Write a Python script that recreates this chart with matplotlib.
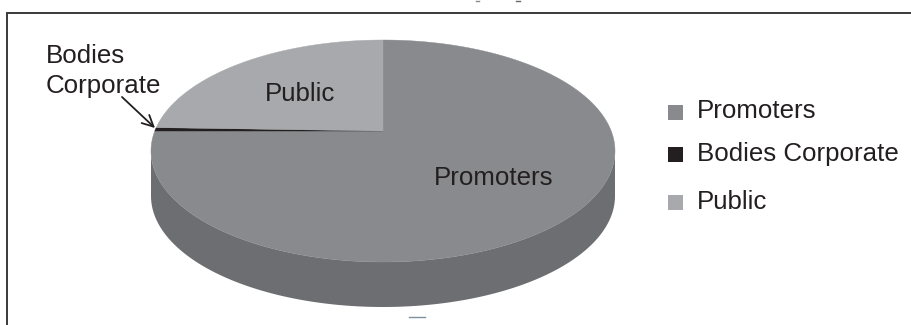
import numpy as np
import matplotlib
matplotlib.use('Agg')
import matplotlib.pyplot as plt
from matplotlib.patches import Polygon, Rectangle

plt.rcParams['font.family'] = ['Liberation Sans', 'DejaVu Sans']

categories = ['Promoters', 'Bodies Corporate', 'Public']
shares = [75.0, 0.5, 24.5]
colors = ['#898a8d', '#231f20', '#a7a9ac']
wall_color = '#6d6e71'
text_color = '#231f20'
font_size = 18.6

# Pie outline in pixels: the wedge apex sits above the ellipse centre for the tilted look
cx, cy = 383, 151
rx, ry = 232, 111
apex_y = 131
depth = 45

fig, ax = plt.subplots(figsize=(9.12, 3.25), dpi=100)
ax.set_position([0, 0, 1, 1])
ax.set_xlim(0, 912)
ax.set_ylim(325, 0)
ax.axis('off')


def rim_point(angle):
    # Where a ray leaving the apex at this pie angle hits the ellipse
    dx = np.cos(angle)
    dy = -np.sin(angle) * ry / rx
    off = (apex_y - cy) / ry
    a = dx**2 / rx**2 + dy**2 / ry**2
    b = 2 * dy * off / ry
    c = off**2 - 1
    t = (-b + np.sqrt(b**2 - 4 * a * c)) / (2 * a)
    return cx + t * dx, apex_y + t * dy


# Side wall, the lower half of the ellipse pushed down
t = np.linspace(0, np.pi, 200)
wall_top = np.column_stack([cx + rx * np.cos(t), cy + ry * np.sin(t)])
wall_bottom = wall_top[::-1] + [0, depth]
ax.add_patch(Polygon(np.vstack([wall_top, wall_bottom]), closed=True,
                     facecolor=wall_color, edgecolor='none'))

# Top face, clockwise from twelve o'clock
start = np.pi / 2
for share, color in zip(shares, colors):
    sweep = 2 * np.pi * share / sum(shares)
    angles = np.linspace(start, start - sweep, 300)
    rim = [rim_point(a) for a in angles]
    ax.add_patch(Polygon([(cx, apex_y)] + rim, closed=True, facecolor=color,
                         edgecolor=color, linewidth=0.3))
    start -= sweep

ax.text(494, 185, categories[0], fontsize=font_size, color=text_color, ha='center', va='baseline')
ax.text(300, 101, categories[2], fontsize=font_size, color=text_color, ha='center', va='baseline')
ax.text(46, 63, 'Bodies', fontsize=font_size, color=text_color, ha='left', va='baseline')
ax.text(46, 93, 'Corporate', fontsize=font_size, color=text_color, ha='left', va='baseline')
ax.annotate('', xy=(155, 128), xytext=(122, 97),
            arrowprops=dict(arrowstyle='->', color=text_color, lw=1.3, mutation_scale=20,
                            shrinkA=0, shrinkB=0))

# Legend spacing is uneven, so each row gets its own y
legend_y = [112, 154, 202]
legend_baseline = [118, 161, 209]
for name, color, y, base in zip(categories, colors, legend_y, legend_baseline):
    ax.add_patch(Rectangle((668, y - 7.5), 15, 15, facecolor=color, edgecolor='none'))
    ax.text(697, base, name, fontsize=font_size, color=text_color, ha='left', va='baseline')

# Box open on the right and at the bottom
ax.plot([7, 7, 912], [325, 12.5, 12.5], color='#3a3a3c', lw=1.4, solid_joinstyle='miter')

# Clipped scraps along the page edges
ax.plot([409, 425], [316.5, 316.5], color='#7f929c', lw=1)
ax.plot([476, 479], [0.5, 0.5], color='#8a8a8a', lw=1)
ax.plot([516, 520], [0.5, 0.5], color='#6a6a6a', lw=1)

fig.savefig('out.png', dpi=100)
